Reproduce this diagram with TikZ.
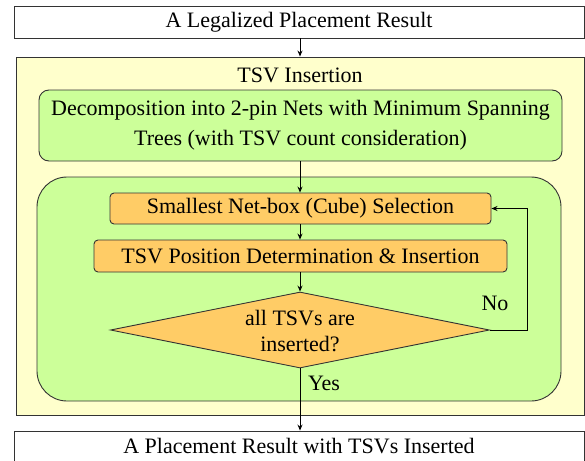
\documentclass[tikz,border=0pt]{standalone}
\usepackage{fontspec}
\setmainfont{Liberation Serif}
\usetikzlibrary{arrows.meta,shapes.geometric}
\definecolor{paleyellow}{HTML}{FFFFCC}
\definecolor{leafgreen}{HTML}{CCFF99}
\definecolor{amber}{HTML}{FFCC66}
\definecolor{edge}{HTML}{333333}
\tikzset{
  box/.style={draw=edge, line width=0.9pt, inner sep=0pt},
  txt/.style={font=\fontsize{22}{26}\selectfont, align=center, inner sep=0pt},
  flow/.style={draw=black, line width=1pt, -{Stealth[length=6pt,width=5pt]}},
}
\begin{document}
\begin{tikzpicture}[x=1pt,y=-1pt]
\useasboundingbox (0,0) rectangle (585,460);
% input and output boxes
\node[box, fill=white, minimum width=570pt, minimum height=32pt] (inp) at (299,22) {};
\node[txt] (inpt) at (299,22) {A Legalized Placement Result};
\node[box, fill=white, minimum width=570pt, minimum height=40pt] (outp) at (299,451) {};
\node[txt] (outpt) at (299,446) {A Placement Result with TSVs Inserted};
% TSV insertion stage
\node[box, fill=paleyellow, minimum width=568pt, minimum height=358pt] (stage) at (300,236) {};
\node[txt] (stt) at (300,75) {TSV Insertion};
\node[box, fill=leafgreen, rounded corners=10pt, minimum width=523pt, minimum height=71pt] (decomp) at (300.5,125.5) {};
\node[txt, font=\fontsize{22}{30}\selectfont] (decompt) at (300.5,125) {Decomposition into 2-pin Nets with Minimum Spanning\\Trees (with TSV count consideration)};
\node[box, fill=leafgreen, rounded corners=30pt, minimum width=524pt, minimum height=224pt] (loopbox) at (299,289) {};
% inner loop
\node[box, fill=amber, rounded corners=4pt, minimum width=381pt, minimum height=31pt] (sel) at (300.5,208.5) {};
\node[txt] (selt) at (300.5,208.5) {Smallest Net-box (Cube) Selection};
\node[box, fill=amber, rounded corners=4pt, minimum width=413pt, minimum height=32pt] (pos) at (300.5,256) {};
\node[txt] (post) at (300.5,256) {TSV Position Determination \& Insertion};
\node[box, fill=amber, diamond, minimum width=379pt, minimum height=76pt] (dec) at (300,330) {};
\node[txt] (dect) at (300,331) {all TSVs are\\inserted?};
\coordinate (turn) at (527,330);
% connectors
\draw[flow] (inp.south -| 300,0) -- (stage.north -| 300,0);
\draw[flow] (decomp.south -| 300,0) -- (sel.north -| 300,0);
\draw[flow] (sel.south -| 300,0) -- (pos.north -| 300,0);
\draw[flow] (pos.south -| 300,0) -- (dec.north);
\draw[flow] (dec.south) -- (outp.north -| dec.south);
\draw[flow] (dec.east) -- (turn) |- (sel.east);
\node[txt] (no) at (495,303) {No};
\node[txt] (yes) at (324,383) {Yes};
\end{tikzpicture}
\end{document}
